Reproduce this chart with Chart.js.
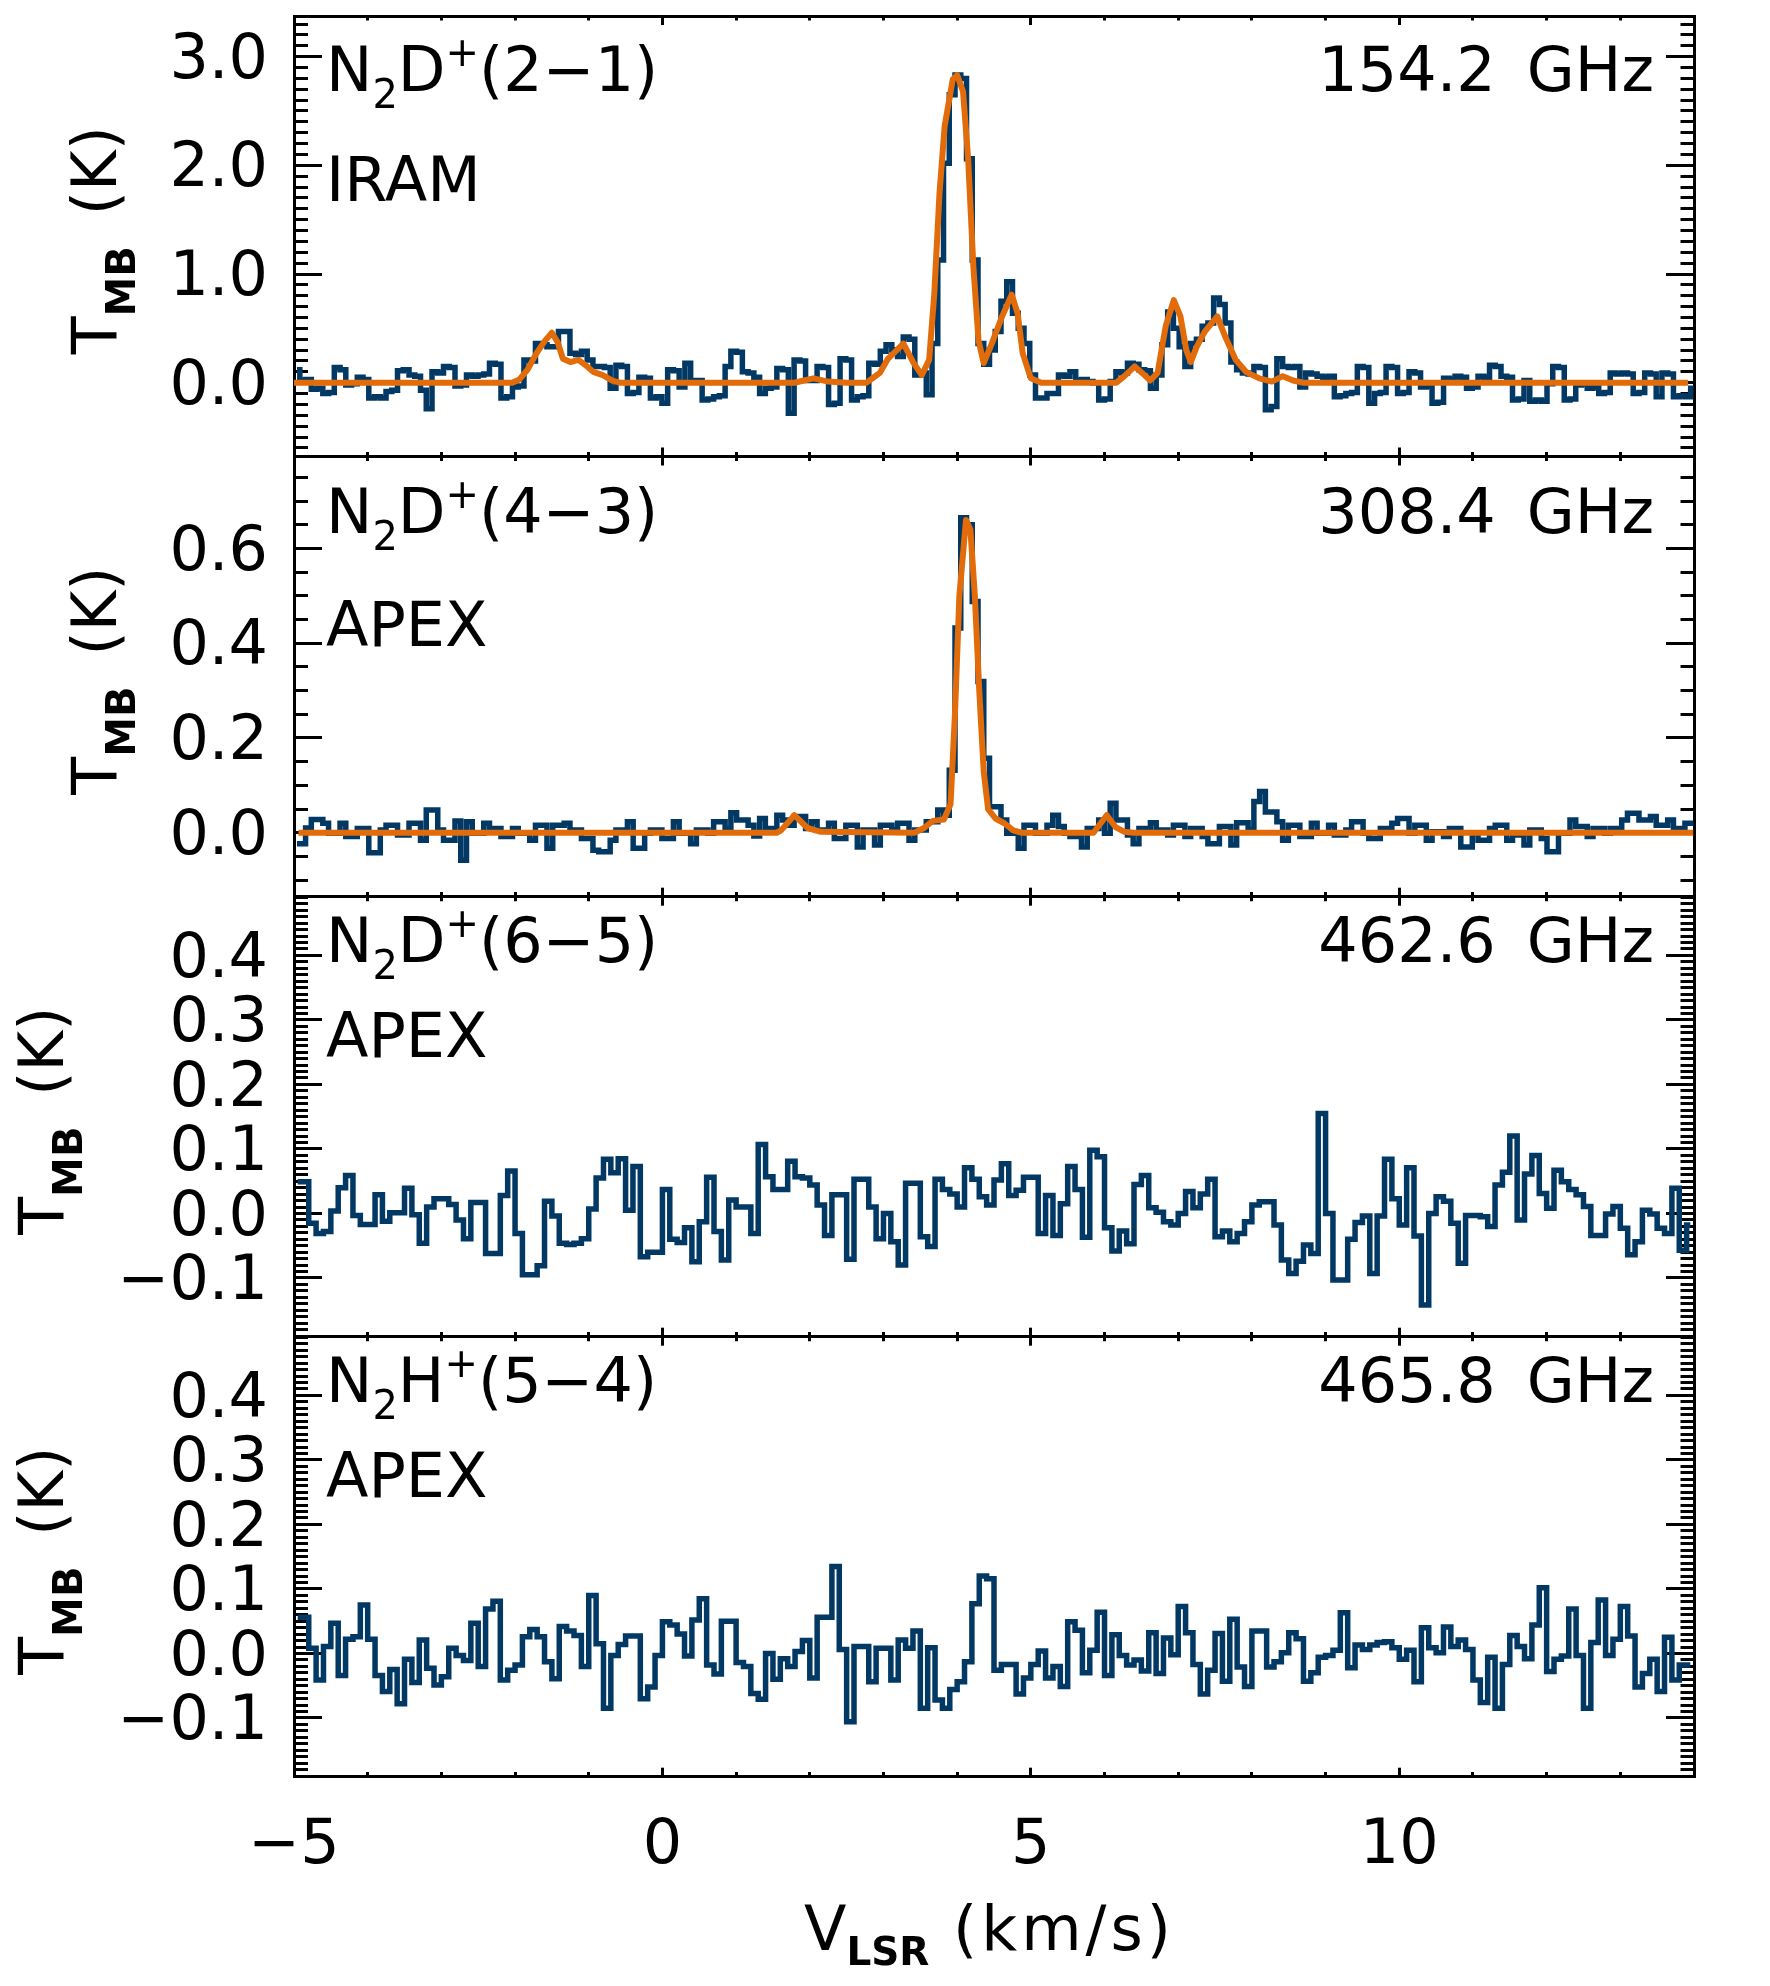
<!DOCTYPE html>
<html><head><meta charset="utf-8">
<script src="https://cdn.jsdelivr.net/npm/chart.js@4.4.0/dist/chart.umd.min.js"></script>
<style>
html,body{margin:0;padding:0;background:#fff;}
#wrap{position:relative;width:1770px;height:1986px;background:#fff;overflow:hidden;}
#wrap canvas{position:absolute;left:0;top:0;}
</style></head><body>
<div id="wrap">
<canvas id="c0" width="1770" height="1986"></canvas>
<canvas id="c1" width="1770" height="1986"></canvas>
<canvas id="c2" width="1770" height="1986"></canvas>
<canvas id="c3" width="1770" height="1986"></canvas>
</div>
<script>
// ---------------- DATA ----------------
// channel grids (km/s)
const V0_A = -4.96, DV_A = 0.078;   // N2D+(2-1), N2D+(4-3)
const V0_B = -4.95, DV_B = 0.1;     // N2D+(6-5), N2H+(5-4)

// N2D+(2-1) IRAM, T_MB (K)
const tmbN2Dp21 = [
0.12,0.02,0.03,-0.06,-0.05,-0.10,-0.09,0.14,0.12,-0.02,
-0.01,0.05,0.03,-0.14,-0.13,-0.14,-0.08,-0.07,0.11,0.12,
0.07,0.06,-0.07,-0.24,0.10,0.09,0.15,0.14,-0.03,-0.02,
0.07,0.06,0.07,0.08,0.18,0.17,-0.14,-0.13,-0.04,-0.03,
0.21,0.20,0.36,0.35,0.33,0.33,0.47,0.47,0.27,0.26,
0.29,0.21,0.15,0.15,0.14,-0.05,0.16,0.15,-0.10,-0.09,
0.05,0.04,-0.14,-0.13,-0.19,0.12,0.11,-0.04,0.18,0.02,
0.02,-0.16,-0.15,-0.13,-0.12,0.15,0.29,0.28,0.10,0.09,
0.05,-0.10,-0.05,-0.04,0.13,0.12,-0.28,0.21,0.20,0.02,
0.02,0.15,0.14,-0.20,-0.19,0.22,0.21,-0.16,-0.13,-0.12,
0.18,0.17,0.29,0.35,0.30,0.24,0.42,0.40,0.07,0.09,
-0.11,0.36,1.13,2.02,2.65,2.83,2.80,2.06,1.13,0.36,
0.17,0.30,0.47,0.75,0.93,0.64,0.50,0.36,0.07,-0.14,
-0.14,-0.10,-0.10,0.07,0.06,0.10,0.02,0.03,0.01,0.00,
-0.16,-0.15,0.01,0.10,0.09,0.18,0.17,0.12,0.11,-0.05,
0.07,0.35,0.65,0.50,0.33,0.15,0.36,0.40,0.52,0.55,
0.78,0.72,0.55,0.19,0.12,0.09,0.08,0.15,0.14,-0.25,
-0.22,0.22,0.15,0.14,0.15,-0.04,0.09,0.08,0.06,0.05,
0.06,-0.13,-0.12,-0.10,-0.09,0.15,0.14,-0.19,-0.10,-0.09,
0.15,0.14,-0.10,-0.09,0.10,0.09,-0.04,-0.03,-0.19,-0.18,
0.04,0.03,0.06,0.05,-0.05,-0.04,0.06,0.05,0.16,0.15,
0.06,0.05,-0.16,-0.15,0.02,-0.17,-0.16,-0.17,-0.01,0.15,
0.14,-0.16,-0.15,-0.02,-0.01,-0.05,-0.04,-0.10,-0.09,0.09,
0.08,0.09,0.08,-0.10,-0.09,0.09,0.08,-0.13,0.09,0.08,
-0.13,-0.12,-0.13,-0.05];

// N2D+(4-3) APEX
const tmbN2Dp43 = [
-0.023,-0.023,0.010,0.028,0.028,0.020,-0.001,-0.001,0.020,-0.008,
-0.008,0.009,0.009,-0.042,-0.042,0.006,0.016,0.016,-0.005,-0.005,
0.020,0.020,-0.016,0.048,0.048,0.006,-0.016,-0.016,0.025,-0.058,
0.023,-0.001,-0.001,0.020,0.009,0.009,-0.008,-0.008,0.009,-0.001,
-0.001,-0.016,0.016,0.016,-0.033,0.016,0.016,0.020,0.006,0.006,
-0.012,-0.012,-0.037,-0.040,-0.040,-0.016,0.006,0.006,0.023,-0.033,
-0.033,-0.001,0.006,0.006,-0.012,-0.012,0.023,-0.001,-0.001,-0.023,
0.006,0.006,-0.001,0.023,0.023,0.009,0.042,0.027,0.027,0.016,
-0.007,0.030,0.009,0.009,0.037,0.027,0.016,0.034,0.034,0.009,
0.023,0.006,0.006,0.020,-0.012,-0.012,0.016,0.016,-0.030,0.006,
0.006,-0.026,0.016,0.016,0.006,0.020,0.020,-0.016,0.006,0.006,
0.023,0.023,0.048,0.037,0.132,0.432,0.665,0.650,0.488,0.319,
0.157,0.055,0.055,0.027,-0.001,-0.001,-0.033,0.016,0.016,-0.001,
-0.001,0.016,0.037,0.013,-0.001,-0.008,-0.008,-0.030,0.009,0.009,
0.027,-0.001,0.062,0.027,0.027,-0.005,-0.023,0.009,0.009,0.021,
0.006,0.006,-0.005,0.016,0.016,-0.008,0.009,0.009,-0.008,-0.023,
-0.023,0.013,0.013,-0.026,0.021,0.021,0.006,0.066,0.087,0.044,
0.044,0.023,-0.016,0.016,0.016,-0.008,-0.008,0.020,-0.001,-0.001,
0.016,-0.005,-0.005,0.006,0.023,0.023,-0.001,-0.012,-0.012,0.009,
0.009,0.020,0.030,0.030,-0.001,0.016,0.016,-0.016,0.002,0.002,
-0.008,0.009,0.009,-0.030,-0.030,-0.001,-0.016,-0.016,0.009,0.016,
0.016,-0.016,-0.005,-0.005,-0.026,0.006,0.006,-0.012,-0.040,-0.040,
-0.001,-0.001,0.027,0.013,0.013,-0.008,0.009,0.009,-0.001,0.009,
0.009,0.027,0.041,0.041,0.027,0.027,0.034,0.016,0.016,0.027,
0.009,0.009,0.020,0.020];

// N2D+(6-5) APEX
const tmbN2Dp65 = [
0.049,0.049,-0.015,-0.031,-0.028,0.004,0.040,0.059,-0.003,-0.017,
-0.017,0.029,-0.012,0.001,0.001,0.039,-0.002,-0.046,0.010,0.023,
0.023,0.014,-0.010,-0.039,0.017,0.017,-0.062,-0.062,0.028,0.066,
-0.031,-0.095,-0.095,-0.081,0.019,-0.004,-0.046,-0.048,-0.046,-0.039,
0.007,0.055,0.084,0.063,0.085,0.005,0.073,-0.067,-0.060,-0.060,
0.037,-0.040,-0.045,-0.022,-0.075,-0.013,0.056,-0.028,-0.072,0.021,
0.010,0.010,-0.031,0.107,0.057,0.037,0.037,0.081,0.057,0.055,
0.044,0.013,-0.034,0.029,0.029,-0.071,0.053,0.053,0.010,-0.039,
0.000,-0.044,-0.080,0.047,0.047,-0.036,-0.051,0.053,0.037,0.030,
0.010,0.071,0.053,0.026,0.013,0.052,0.077,0.028,0.036,0.056,
0.056,-0.031,0.028,-0.034,0.015,0.073,0.037,-0.037,0.098,0.088,
-0.022,-0.058,-0.027,-0.047,0.045,0.059,0.009,0.002,-0.013,-0.018,
0.000,0.034,0.009,0.030,0.053,-0.036,-0.027,-0.044,-0.031,-0.013,
0.013,0.018,0.018,-0.018,-0.072,-0.093,-0.074,-0.049,-0.062,0.155,
0.000,-0.103,-0.103,-0.040,-0.014,-0.004,-0.093,-0.004,0.084,0.023,
-0.018,0.071,-0.035,-0.142,0.000,0.026,0.019,-0.015,-0.077,-0.003,
-0.003,-0.005,-0.020,0.044,0.064,0.120,-0.010,0.061,0.090,0.031,
0.008,0.067,0.049,0.037,0.029,0.011,-0.034,-0.034,-0.001,0.011,
-0.023,-0.064,-0.044,0.005,-0.001,-0.023,-0.031,0.039,-0.057,-0.018];

// N2H+(5-4) APEX
const tmbN2Hp54 = [
0.056,0.056,0.008,-0.041,0.011,0.047,-0.034,0.022,0.026,0.075,
0.022,-0.034,-0.059,-0.025,-0.078,-0.009,-0.045,0.021,-0.023,-0.049,
-0.036,0.008,-0.003,-0.011,0.047,-0.020,0.069,0.081,-0.041,-0.026,
-0.018,0.026,0.037,0.026,-0.013,-0.039,0.042,0.035,0.028,-0.020,
0.090,0.015,-0.085,-0.003,0.014,0.027,0.027,-0.070,-0.052,-0.003,
0.049,0.044,0.030,-0.004,0.052,0.085,-0.018,-0.032,0.050,0.050,
-0.014,-0.020,-0.062,-0.071,0.000,-0.040,-0.008,-0.020,0.003,0.020,
-0.038,0.056,0.056,0.135,0.006,-0.106,0.011,0.011,-0.044,0.008,
0.008,-0.041,0.021,0.008,0.035,-0.085,0.009,-0.072,-0.085,-0.056,
-0.044,-0.013,0.077,0.120,0.116,-0.026,-0.017,-0.017,-0.063,-0.038,
-0.017,0.004,-0.038,-0.020,-0.051,0.049,0.036,-0.030,0.005,0.064,
-0.034,0.029,-0.003,-0.018,-0.010,-0.027,0.032,-0.031,0.024,-0.002,
0.073,0.032,-0.017,-0.063,-0.026,0.031,-0.043,0.053,-0.021,-0.051,
0.035,0.035,-0.021,-0.013,0.001,0.032,0.023,-0.043,-0.030,-0.006,
-0.003,0.005,0.063,-0.022,0.013,0.006,0.013,0.017,0.018,0.009,
-0.009,0.005,-0.044,0.040,0.009,0.001,0.041,0.011,0.021,0.006,
-0.041,-0.076,-0.006,-0.085,-0.017,0.028,0.011,-0.008,0.044,0.102,
-0.028,-0.009,-0.004,0.069,-0.003,-0.085,0.017,0.083,-0.003,0.022,
0.073,0.027,-0.052,-0.031,-0.009,-0.059,0.025,-0.041,-0.018,-0.018];

// hyperfine fits (orange)
const fit21V = [-5.0,-2.04,-1.94,-1.83,-1.71,-1.60,-1.50,-1.42,-1.35,-1.25,-1.14,-1.04,-0.94,-0.81,-0.68,-0.58,1.79,1.92,2.05,2.25,2.5,2.77,2.87,2.95,3.06,3.27,3.41,3.52,3.62,3.69,3.76,3.83,3.94,4.00,4.08,4.15,4.22,4.29,4.36,4.47,4.61,4.74,4.82,4.89,5.00,5.14,6.16,6.27,6.41,6.51,6.62,6.72,6.83,6.94,7.03,7.11,7.17,7.25,7.36,7.53,7.64,7.78,7.92,8.10,8.27,8.42,8.56,8.70,13.92];
const fit21T = [0,0,0.03,0.12,0.27,0.38,0.46,0.37,0.22,0.19,0.21,0.16,0.10,0.07,0.02,0,0,0.02,0.04,0.01,0,0,0.05,0.09,0.22,0.36,0.18,0.07,0.21,0.82,1.74,2.36,2.79,2.83,2.68,2.05,1.07,0.39,0.18,0.36,0.61,0.81,0.64,0.27,0.04,0,0,0.06,0.15,0.09,0.02,0.09,0.52,0.76,0.61,0.30,0.19,0.33,0.47,0.61,0.42,0.21,0.10,0.04,0.01,0.06,0.02,0,0];
const fit43V = [-4.94,1.55,1.61,1.79,1.97,2.15,3.42,3.55,3.67,3.82,3.91,3.97,4.03,4.12,4.18,4.24,4.30,4.36,4.42,4.52,4.64,4.76,4.88,5.85,6.03,6.15,6.27,6.39,13.99];
const fit43T = [0,0,0.005,0.037,0.01,0.002,0,0.01,0.025,0.028,0.06,0.25,0.5,0.66,0.64,0.5,0.3,0.13,0.05,0.03,0.02,0.005,0,0,0.037,0.012,0.002,0,0];

// axes
const xRange = [-5, 14];
const xMajor = [-5, 0, 5, 10];
const xMinorStep = 1;
const yRanges = [[-0.679, 3.374], [-0.135, 0.794], [-0.191, 0.491], [-0.191, 0.491]];
const yMajor = [[0,1,2,3],[0,0.2,0.4,0.6],[-0.1,0,0.1,0.2,0.3,0.4],[-0.1,0,0.1,0.2,0.3,0.4]];
const yMinorStep = [0.1, 0.05, 0.01, 0.01];

// texts
const lineNames = [['N','2','D','+','(2\u22121)'],['N','2','D','+','(4\u22123)'],['N','2','D','+','(6\u22125)'],['N','2','H','+','(5\u22124)']];
const telescopes = ['IRAM','APEX','APEX','APEX'];
const freqLabels = ['154.2\u2002GHz','308.4\u2002GHz','462.6\u2002GHz','465.8\u2002GHz'];
const yTitle = ['T','MB','\u2002(K)'];
const xTitle = ['V','LSR',' (km/s)'];

// ---------------- LAYOUT / STYLE ----------------
const W = 1770, H = 1986;
const plotLeft = 294, plotRight = 1694;
const panelTop = [16, 456.5, 896.7, 1336.7];
const panelBottom = [456.5, 896.7, 1336.7, 1776.7];
const nameBase = [75, 76.5, 65, 65];
const telBase = [185, 189, 160, 160];
const yTitleX = [116, 116, 63, 63];
const BLUE = '#023864', ORANGE = '#e26b0a', BLACK = '#000';
const FONT = 'DejaVu Sans';

function near(v, arr) { return arr.some(m => Math.abs(v - m) < 1e-6); }
function tickList(min, max, step) {
  const out = [];
  for (let k = Math.ceil(min / step - 1e-9); k * step <= max + 1e-9; k++) out.push(+(k * step).toFixed(4));
  return out;
}
function minus(s) { return s.replace('-', '\u2212'); }
function spectrum(vals, v0, dv) { return vals.map((t, i) => ({x: +(v0 + dv * i).toFixed(4), y: t})); }
function polyline(vs, ts) { return vs.map((v, i) => ({x: v, y: ts[i]})); }

function xScale(pos, showLabels, boxHeight) {
  const L = 9, m = 4.5;
  return {
    type: 'linear', position: pos, min: xRange[0], max: xRange[1], bounds: 'data',
    afterBuildTicks: s => { s.ticks = tickList(xRange[0], xRange[1], xMinorStep).map(v => ({value: v})); },
    afterFit: s => { s.height = boxHeight; s.paddingLeft = 0; s.paddingRight = 0; s.paddingTop = 0; s.paddingBottom = 0; },
    border: {display: true, width: 3, color: BLACK},
    grid: {display: true, drawOnChartArea: false, drawTicks: true, tickLength: -L, tickWidth: 3, tickColor: BLACK,
      tickBorderDash: c => (!c.tick || near(c.tick.value, xMajor)) ? [] : (pos === 'top' ? [0, L - m, m + 2, 1000] : [m + 1.5, 1000])},
    ticks: {display: showLabels, autoSkip: false, maxRotation: 0, minRotation: 0, padding: 42, color: BLACK,
      font: {family: FONT, size: 62},
      callback: v => near(v, xMajor) ? minus(String(v)) : ''}
  };
}
function yScale(pos, k) {
  const L = 28, m = 14;
  return {
    type: 'linear', position: pos, min: yRanges[k][0], max: yRanges[k][1], bounds: 'data',
    afterBuildTicks: s => { s.ticks = tickList(yRanges[k][0], yRanges[k][1], yMinorStep[k]).map(v => ({value: v})); },
    afterFit: s => { s.width = pos === 'left' ? plotLeft : W - plotRight; s.paddingTop = 0; s.paddingBottom = 0; s.paddingLeft = 0; s.paddingRight = 0; },
    border: {display: true, width: 3, color: BLACK},
    grid: {display: true, drawOnChartArea: false, drawTicks: true, tickLength: -L, tickWidth: 3, tickColor: BLACK,
      tickBorderDash: c => (!c.tick || near(c.tick.value, yMajor[k])) ? [] : (pos === 'left' ? [0, L - m, m + 2, 1000] : [m + 1.5, 1000])},
    ticks: {display: pos === 'left', autoSkip: false, padding: 54, labelOffset: 5, color: BLACK,
      font: {family: FONT, size: 62},
      callback: v => near(v, yMajor[k]) ? minus(v.toFixed(1)) : ''}
  };
}

function drawParts(ctx, parts, x, y, align) {
  const widths = parts.map(p => { ctx.font = (p[2] ? 'bold ' : '') + p[1] + 'px "' + FONT + '"'; ctx.letterSpacing = (p[4] || 0) + 'px'; return ctx.measureText(p[0]).width; });
  const total = widths.reduce((a, b) => a + b, 0);
  let cx = align === 'right' ? x - total : (align === 'center' ? x - total / 2 : x);
  parts.forEach((p, i) => {
    ctx.font = (p[2] ? 'bold ' : '') + p[1] + 'px "' + FONT + '"';
    ctx.letterSpacing = (p[4] || 0) + 'px';
    ctx.fillText(p[0], cx, y + p[3]);
    cx += widths[i];
  });
  ctx.letterSpacing = '0px';
}

function labelPlugin(k) {
  return {
    id: 'panelText' + k,
    afterDraw(chart) {
      const ctx = chart.ctx;
      const a = chart.chartArea;
      ctx.save();
      ctx.fillStyle = BLACK;
      ctx.textBaseline = 'alphabetic';
      ctx.textAlign = 'left';
      const n = lineNames[k];
      drawParts(ctx, [[n[0], 62, false, 0], [n[1], 40, false, 17], [n[2], 62, false, 0], [n[3], 40, false, -25], [n[4], 62, false, 0]], a.left + 32, a.top + nameBase[k], 'left');
      drawParts(ctx, [[telescopes[k], 62, false, 0]], a.left + 32, a.top + telBase[k], 'left');
      drawParts(ctx, [[freqLabels[k], 62, false, 0]], a.right - 40, a.top + nameBase[k], 'right');
      // y title (rotated)
      ctx.save();
      ctx.translate(yTitleX[k], (a.top + a.bottom) / 2 + 4);
      ctx.rotate(-Math.PI / 2);
      drawParts(ctx, [[yTitle[0], 62, false, 0], [yTitle[1], 40, true, 19], [yTitle[2], 62, false, 0]], 0, 0, 'center');
      ctx.restore();
      if (k === 3) {
        drawParts(ctx, [[xTitle[0], 62, false, 0], [xTitle[1], 39, true, 15], [xTitle[2], 62, false, 0, 4]], 804, 1950, 'left');
      }
      ctx.restore();
    }
  };
}

function makePanel(k, datasets) {
  const last = k === 3;
  const bottomBox = last ? H - panelBottom[k] : 0;
  return new Chart(document.getElementById('c' + k), {
    type: 'line',
    data: {datasets},
    options: {
      responsive: false, maintainAspectRatio: false, animation: false, devicePixelRatio: 1, events: [],
      layout: {padding: {top: panelTop[k], bottom: last ? 0 : H - panelBottom[k], left: 0, right: 0}},
      plugins: {legend: {display: false}, tooltip: {enabled: false}, title: {display: false}},
      scales: {x: xScale('bottom', last, bottomBox), x2: xScale('top', false, 0), y: yScale('left', k), y2: yScale('right', k)}
    },
    plugins: [labelPlugin(k)]
  });
}

function specSet(data) {
  return {data, borderColor: BLUE, borderWidth: 5.5, pointRadius: 0, stepped: 'middle', fill: false, order: 1, xAxisID: 'x', yAxisID: 'y'};
}
function fitSet(data) {
  return {data, borderColor: ORANGE, borderWidth: 6, pointRadius: 0, tension: 0, fill: false, order: 0, borderJoinStyle: 'round', xAxisID: 'x', yAxisID: 'y'};
}

makePanel(0, [specSet(spectrum(tmbN2Dp21, V0_A, DV_A)), fitSet(polyline(fit21V, fit21T))]);
makePanel(1, [specSet(spectrum(tmbN2Dp43, V0_A, DV_A)), fitSet(polyline(fit43V, fit43T))]);
makePanel(2, [specSet(spectrum(tmbN2Dp65, V0_B, DV_B))]);
makePanel(3, [specSet(spectrum(tmbN2Hp54, V0_B, DV_B))]);
</script>
</body></html>
